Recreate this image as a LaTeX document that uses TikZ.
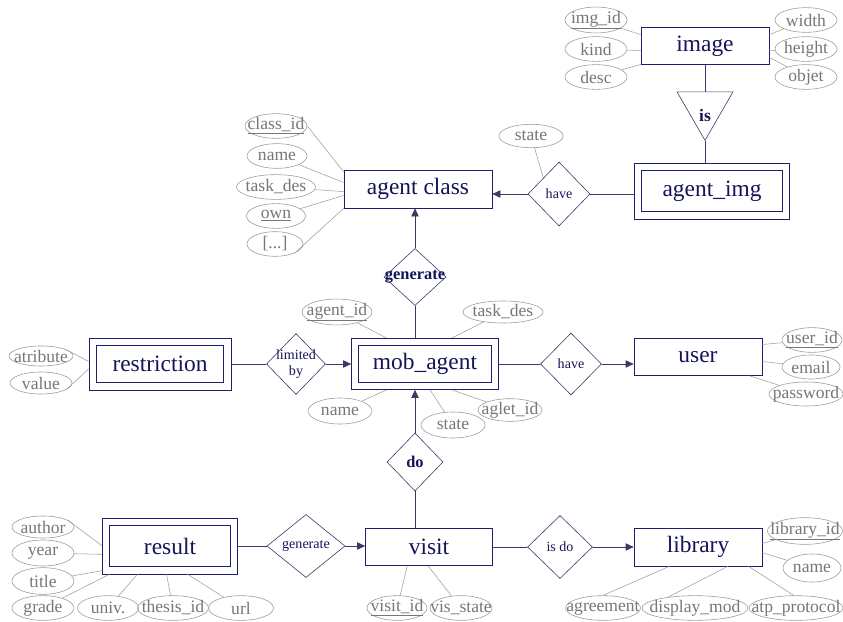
\documentclass[tikz,border=0pt]{standalone}
\usepackage{fontspec}
\setmainfont{Liberation Serif}
\usepackage{tikz}
\usetikzlibrary{arrows.meta,shapes.geometric,calc}
\definecolor{ErNavy}{HTML}{1E1E6E}
\definecolor{ErInk}{HTML}{14145A}
\definecolor{ErRel}{HTML}{3A3A62}
\definecolor{ErAttr}{HTML}{9C9C9C}
\definecolor{ErAttrInk}{HTML}{777777}

\begin{document}
\begin{tikzpicture}[
    x=0.03cm,y=-0.03cm,
    ent/.style={draw=ErNavy,line width=0.6pt,text=ErInk,inner sep=0pt,
      font=\fontsize{20}{22}\selectfont},
    weak/.style={ent,path picture={
        \draw[ErNavy,line width=0.6pt]
          ([shift={(0.22cm,-0.22cm)}]path picture bounding box.north west) rectangle
          ([shift={(-0.22cm,0.22cm)}]path picture bounding box.south east);}},
    rel/.style={diamond,draw=ErRel,line width=0.5pt,inner sep=0pt,text=ErInk,
      font=\fontsize{12}{14}\selectfont,
      execute at begin node={\hbox to 0pt\bgroup\hss},
      execute at end node={\hss\egroup}},
    relbold/.style={rel,font=\fontsize{14}{16}\selectfont\bfseries},
    isa/.style={regular polygon,regular polygon sides=3,shape border rotate=180,
      draw=ErRel,line width=0.5pt,inner sep=0pt,minimum size=1.94cm},
    attr/.style={ellipse,draw=ErAttr,line width=0.5pt,text=ErAttrInk,inner sep=0pt,
      minimum height=0.74cm,font=\fontsize{15}{16}\selectfont,
      execute at begin node={\hbox to 0pt\bgroup\hss},
      execute at end node={\hss\egroup}},
    link/.style={draw=ErRel,line width=0.6pt},
    arrow/.style={link,-{Triangle[length=2.4mm,width=2.2mm]}},
    attrline/.style={draw=ErAttr,line width=0.45pt}
  ]
    \path[use as bounding box,fill=white] (0,0) rectangle (843,622);

    % entities
    \node[ent,minimum width=3.84cm,minimum height=1.11cm] (image) at (705,46) {image};
    \node[ent,minimum width=4.44cm,minimum height=1.14cm] (ac) at (418,189) {agent class};
    \node[weak,minimum width=4.65cm,minimum height=1.68cm] (aimg) at (712,191) {agent\_img};
    \node[weak,minimum width=4.41cm,minimum height=1.53cm] (mob) at (425,364) {mob\_agent};
    \node[weak,minimum width=4.26cm,minimum height=1.56cm] (rest) at (160,364) {restriction};
    \node[ent,minimum width=3.84cm,minimum height=1.11cm] (user) at (698,357) {user};
    \node[weak,minimum width=4.05cm,minimum height=1.68cm] (res) at (170,546) {result};
    \node[ent,minimum width=3.81cm,minimum height=1.11cm] (visit) at (429,547) {visit};
    \node[ent,minimum width=3.84cm,minimum height=1.14cm] (lib) at (698,547) {library};

    % relationships
    \node[isa] (isa) at (705,108) {};
    \node[font=\fontsize{15}{16}\selectfont\bfseries,text=ErInk] (istxt) at (705,115) {is};
    \node[rel,minimum width=1.86cm,minimum height=1.92cm] (have1) at (559,194) {have};
    \node[relbold,minimum width=1.86cm,minimum height=1.71cm] (gen1) at (415,277) {generate};
    \node[rel,minimum width=1.77cm,minimum height=1.83cm] (lim) at (296,364)
      {\begin{tabular}{@{}c@{}}limited\\by\end{tabular}};
    \node[rel,minimum width=1.83cm,minimum height=1.86cm] (have2) at (571,364) {have};
    \node[relbold,minimum width=1.68cm,minimum height=1.74cm] (do) at (415,462) {do};
    \node[rel,minimum width=2.34cm,minimum height=1.89cm] (gen2) at (306,546) {generate};
    \node[rel,minimum width=1.95cm,minimum height=1.89cm] (isdo) at (560,547) {is do};

    % attributes of image
    \node[attr,minimum width=1.86cm] (imgid) at (596,20) {\underline{img\_id}};
    \node[attr,minimum width=1.86cm] (kind) at (596,49) {kind};
    \node[attr,minimum width=1.86cm] (desc) at (596,77) {desc};
    \node[attr,minimum width=1.86cm] (awidth) at (806,20) {width};
    \node[attr,minimum width=1.86cm] (aheight) at (806,49) {height};
    \node[attr,minimum width=1.86cm] (objet) at (806,77) {objet};

    % attributes of agent class
    \node[attr,minimum width=1.86cm] (cid) at (276,126) {\underline{class\_id}};
    \node[attr,minimum width=1.80cm] (cname) at (277,156) {name};
    \node[attr,minimum width=2.37cm] (ctask) at (276,187) {task\_des};
    \node[attr,minimum width=1.77cm] (cown) at (276,216) {\underline{own}};
    \node[attr,minimum width=1.68cm] (cetc) at (275,244) {[...]};
    \node[attr,minimum width=1.92cm,minimum height=0.7cm] (state1) at (531,136) {state};

    % attributes of mob_agent
    \node[attr,minimum width=2.1cm,minimum height=0.66cm] (aid) at (337,312) {\underline{agent\_id}};
    \node[attr,minimum width=2.4cm,minimum height=0.66cm] (mtask) at (503,312) {task\_des};
    \node[attr,minimum width=1.92cm,minimum height=0.78cm] (mname) at (340,411) {name};
    \node[attr,minimum width=1.92cm,minimum height=0.78cm] (mstate) at (453,425) {state};
    \node[attr,minimum width=1.92cm,minimum height=0.66cm] (aglet) at (510,410) {aglet\_id};

    % attributes of restriction
    \node[attr,minimum width=1.92cm,minimum height=0.6cm] (atr) at (41,356) {atribute};
    \node[attr,minimum width=1.86cm,minimum height=0.66cm] (rval) at (41,383) {value};

    % attributes of user
    \node[attr,minimum width=1.8cm] (uid) at (812,340) {\underline{user\_id}};
    \node[attr,minimum width=1.74cm,minimum height=0.72cm] (email) at (811,367) {email};
    \node[attr,minimum width=2.22cm,minimum height=0.72cm] (pwd) at (806,394) {password};

    % attributes of result
    \node[attr,minimum width=1.86cm,minimum height=0.66cm] (author) at (43,527) {author};
    \node[attr,minimum width=1.86cm,minimum height=0.78cm] (year) at (43,553) {year};
    \node[attr,minimum width=1.86cm,minimum height=0.8cm] (title) at (43,581) {title};
    \node[attr,minimum width=1.86cm] (grade) at (43,608) {grade};
    \node[attr,minimum width=1.83cm] (univ) at (108,608) {univ.};
    \node[attr,minimum width=2.13cm] (thid) at (173,608) {thesis\_id};
    \node[attr,minimum width=1.95cm] (url) at (241,608) {url};

    % attributes of visit
    \node[attr,minimum width=1.8cm] (vid) at (397,608) {\underline{visit\_id}};
    \node[attr,minimum width=1.86cm] (vst) at (461,608) {vis\_state};

    % attributes of library
    \node[attr,minimum width=2.25cm,minimum height=0.8cm] (libid) at (805,531) {\underline{library\_id}};
    \node[attr,minimum width=1.74cm,minimum height=0.84cm] (lname) at (812,568) {name};
    \node[attr,minimum width=2.25cm] (agree) at (603,608) {agreement};
    \node[attr,minimum width=3.18cm] (dmod) at (695,608) {display\_mod};
    \node[attr,minimum width=2.82cm] (atp) at (796,608) {atp\_protocol};

    % relationship links
    \draw[link] (image) -- (isa);
    \draw[link] (isa) -- (isa |- aimg.north);
    \draw[link] (aimg.west |- have1) -- (have1);
    \draw[arrow] (have1) -- (have1 -| ac.east);
    \draw[link] (gen1 |- mob.north) -- (gen1);
    \draw[arrow] (gen1) -- (gen1 |- ac.south);
    \draw[link] (rest) -- (lim);
    \draw[arrow] (lim) -- (mob);
    \draw[link] (mob) -- (have2);
    \draw[arrow] (have2) -- (have2 -| user.west);
    \draw[arrow] (do) -- (do |- mob.south);
    \draw[link] (do |- visit.north) -- (do);
    \draw[link] (res) -- (gen2);
    \draw[arrow] (gen2) -- (gen2 -| visit.west);
    \draw[link] (visit) -- (isdo);
    \draw[arrow] (isdo) -- (lib);

    % attribute links
    \draw[attrline] (imgid) -- (image.170);
    \draw[attrline] (kind) -- (image.184);
    \draw[attrline] (desc) -- (image.196);
    \draw[attrline] (awidth) -- (image.10);
    \draw[attrline] (aheight) -- (image.356);
    \draw[attrline] (objet) -- (image.350);
    \draw[attrline] (cid.east) -- (ac.167);
    \draw[attrline] (cname) -- (ac.175);
    \draw[attrline] (ctask) -- (ac.182);
    \draw[attrline] (cown) -- (ac.185);
    \draw[attrline] (cetc.-25) -- (ac.south west);
    \draw[attrline] (state1) -- (have1.north west);
    \draw[attrline] (aid) -- (mob.146);
    \draw[attrline] (mtask) -- (mob.44);
    \draw[attrline] (mname) -- (mob.214);
    \draw[attrline] (mstate) -- (mob.281);
    \draw[attrline] (aglet) -- (mob.316);
    \draw[attrline] (atr.15) -- (rest.178);
    \draw[attrline] (rval.-15) -- (rest.184);
    \draw[attrline] (uid) -- (user.11);
    \draw[attrline] (email) -- (user.356);
    \draw[attrline] (pwd) -- (user.340);
    \draw[attrline] (author.15) -- (res.180);
    \draw[attrline] (year) -- (res.187);
    \draw[attrline] (title) -- (res.200);
    \draw[attrline] (grade) -- (res.205);
    \draw[attrline] (univ) -- (res.221);
    \draw[attrline] (thid) -- (res.263);
    \draw[attrline] (url) -- (res.302);
    \draw[attrline] (vid) -- (visit.221);
    \draw[attrline] (vst) -- (visit.267);
    \draw[attrline] (libid) -- (lib.3);
    \draw[attrline] (lname) -- (lib.355);
    \draw[attrline] (agree.north) -- (lib.214);
    \draw[attrline] (dmod.158) -- (lib.327);
    \draw[attrline] (atp.100) -- (lib.339);
\end{tikzpicture}
\end{document}
